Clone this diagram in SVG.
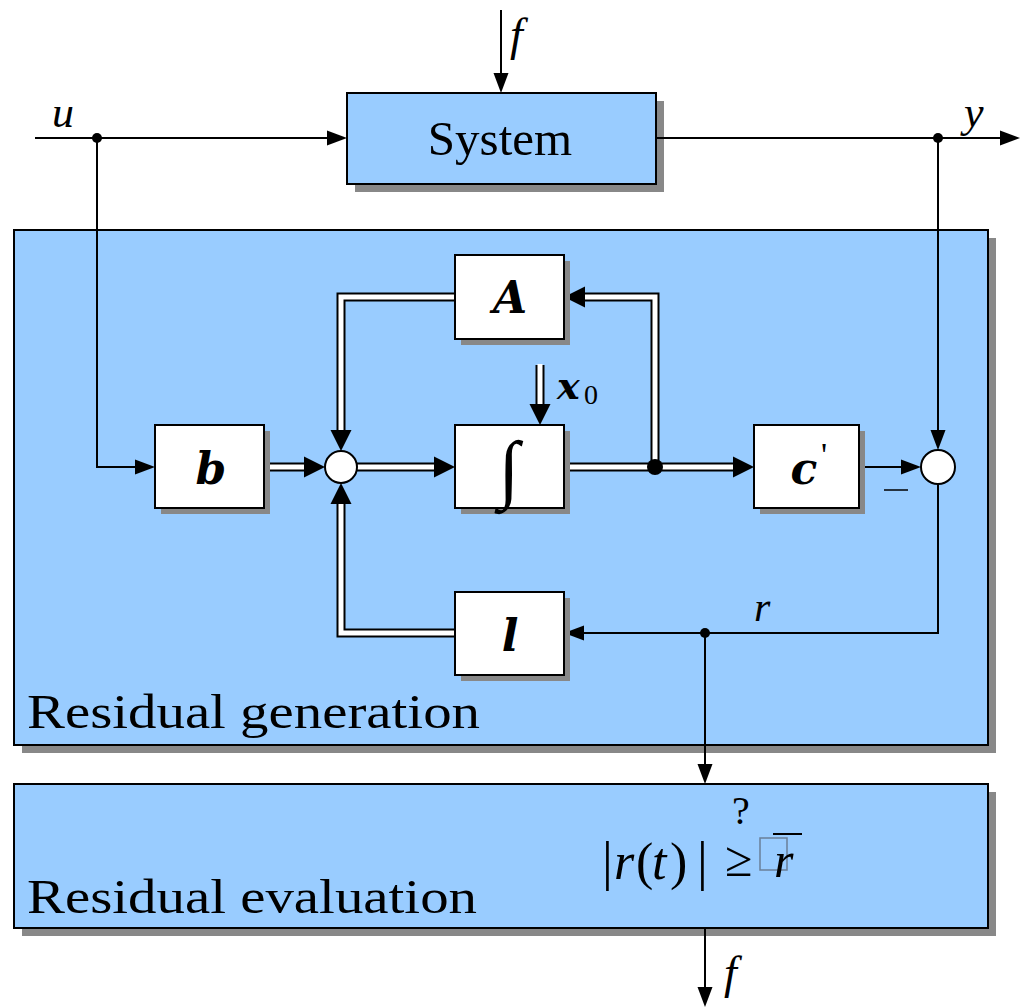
<svg xmlns="http://www.w3.org/2000/svg" width="1020" height="1007" viewBox="0 0 1020 1007">
<style>
  .panel{fill:#99ccff;stroke:#000;stroke-width:2}
  .shadow{fill:#888888}
  .blk{fill:#ffffff;stroke:#000;stroke-width:2}
  .w1{fill:none;stroke:#000;stroke-width:2}
  .dout{fill:none;stroke:#000;stroke-width:9;stroke-linejoin:miter}
  .din{fill:none;stroke:#fff;stroke-width:5;stroke-linejoin:miter}
  .t{font-family:"Liberation Serif","DejaVu Serif",serif;fill:#000}
  .m{font-family:"Liberation Serif","DejaVu Serif",serif;font-style:italic;fill:#000}
  .mb{font-family:"DejaVu Serif","Liberation Serif",serif;font-style:italic;font-weight:bold;fill:#000}
</style>
<defs>
  <marker id="ah" markerUnits="userSpaceOnUse" markerWidth="20" markerHeight="16" refX="0" refY="8" orient="auto" viewBox="0 0 20 16">
    <path d="M0,0.5 L20,8 L0,15.5 z" fill="#000"/>
  </marker>
  <marker id="ahd" markerUnits="userSpaceOnUse" markerWidth="21" markerHeight="22" refX="0" refY="11" orient="auto" viewBox="0 0 21 22">
    <path d="M0,0.5 L21,11 L0,21.5 z" fill="#000"/>
  </marker>
</defs>

<g id="panel-generation">
  <rect class="shadow" x="22" y="238" width="974" height="515"/>
  <rect class="panel" x="14" y="230" width="974" height="515"/>
  <text class="t" x="27" y="728" font-size="48" textLength="453" lengthAdjust="spacingAndGlyphs">Residual generation</text>
</g>
<g id="panel-evaluation">
  <rect class="shadow" x="22" y="792" width="974" height="144"/>
  <rect class="panel" x="14" y="784" width="974" height="144"/>
  <text class="t" x="27" y="913" font-size="48" textLength="450" lengthAdjust="spacingAndGlyphs">Residual evaluation</text>
  <text class="t" x="602" y="879" font-size="54">|</text>
  <text class="m" x="614" y="879" font-size="52">r</text>
  <text class="t" x="636" y="879" font-size="52">(</text>
  <text class="m" x="652" y="879" font-size="52">t</text>
  <text class="t" x="670" y="879" font-size="52">)</text>
  <text class="t" x="697" y="879" font-size="54">|</text>
  <text class="t" x="725" y="876" font-size="50">≥</text>
  <text class="t" x="732" y="824" font-size="40">?</text>
  <rect x="760" y="838" width="27" height="32" fill="none" stroke="#6a7f99" stroke-width="1.5"/>
  <text class="m" x="774" y="877" font-size="50">r</text>
  <line x1="773" y1="834" x2="802" y2="834" stroke="#000" stroke-width="2"/>
</g>

<g id="system">
  <rect class="shadow" x="355" y="101" width="309" height="91"/>
  <rect class="panel" x="347" y="93" width="309" height="91"/>
  <text class="t" x="500" y="155" font-size="49" text-anchor="middle">System</text>
</g>

<g id="connectors">
  <path class="w1" d="M35,138 H327" marker-end="url(#ah)"/>
  <path class="w1" d="M97,138 V467 H135" marker-end="url(#ah)"/>
  <path class="w1" d="M501,10 V73" marker-end="url(#ah)"/>
  <path class="w1" d="M656,138 H1000" marker-end="url(#ah)"/>
  <path class="w1" d="M938,138 V430" marker-end="url(#ah)"/>
  <path class="w1" d="M859,467 H901" marker-end="url(#ah)"/>
  <path class="w1" d="M938,484 V633 H584" marker-end="url(#ah)"/>
  <path class="w1" d="M705,633 V764" marker-end="url(#ah)"/>
  <path class="w1" d="M705,928 V987" marker-end="url(#ah)"/>

  <path class="dout" d="M264,467 H304" marker-end="url(#ahd)"/>
  <path class="din" d="M263,467 H304"/>
  <path class="dout" d="M357,467 H434" marker-end="url(#ahd)"/>
  <path class="din" d="M356,467 H434"/>
  <path class="dout" d="M564,467 H733" marker-end="url(#ahd)"/>
  <path class="din" d="M563,467 H733"/>
  <path class="dout" d="M655,467 V297 H585" marker-end="url(#ahd)"/>
  <path class="din" d="M655,468 V297 H585"/>
  <path class="dout" d="M455,297 H341 V430" marker-end="url(#ahd)"/>
  <path class="din" d="M456,297 H341 V430"/>
  <path class="dout" d="M455,633 H341 V504" marker-end="url(#ahd)"/>
  <path class="din" d="M456,633 H341 V504"/>
  <path class="dout" d="M540,365 V404" marker-end="url(#ahd)"/>
  <path class="din" d="M540,364 V404"/>

  <circle cx="97" cy="138" r="5" fill="#000"/>
  <circle cx="938" cy="138" r="5" fill="#000"/>
  <circle cx="655" cy="467" r="8" fill="#000"/>
  <circle cx="705" cy="633" r="5" fill="#000"/>
</g>

<g id="block-b">
  <rect class="shadow" x="161" y="431" width="109" height="83"/>
  <rect class="blk" x="155" y="425" width="109" height="83"/>
  <text class="mb" x="211" y="484" font-size="44" text-anchor="middle">b</text>
</g>
<g id="sum1">
  <circle cx="341" cy="467" r="16" fill="#fff" stroke="#000" stroke-width="2"/>
</g>
<g id="block-int">
  <rect class="shadow" x="461" y="431" width="109" height="83"/>
  <rect class="blk" x="455" y="425" width="109" height="83"/>
  <text class="t" x="509" y="494" font-size="76" text-anchor="middle">∫</text>
</g>
<g id="block-A">
  <rect class="shadow" x="461" y="261" width="109" height="84"/>
  <rect class="blk" x="455" y="255" width="109" height="84"/>
  <text class="mb" x="510" y="313" font-size="44" text-anchor="middle">A</text>
</g>
<g id="block-l">
  <rect class="shadow" x="461" y="598" width="109" height="83"/>
  <rect class="blk" x="455" y="592" width="109" height="83"/>
  <text class="mb" x="510" y="651" font-size="44" text-anchor="middle">l</text>
</g>
<g id="block-c">
  <rect class="shadow" x="760" y="431" width="105" height="83"/>
  <rect class="blk" x="754" y="425" width="105" height="83"/>
  <text class="mb" x="804" y="484" font-size="44" text-anchor="middle">c</text>
  <text class="t" x="821" y="466" font-size="34">'</text>
</g>
<g id="sum2">
  <circle cx="938" cy="467" r="17" fill="#fff" stroke="#000" stroke-width="2"/>
  <line x1="884" y1="490" x2="908" y2="490" stroke="#000" stroke-width="1.5"/>
</g>

<g id="labels">
  <text class="m" x="510" y="50" font-size="46">f</text>
  <text class="m" x="52" y="127" font-size="44">u</text>
  <text class="m" x="964" y="127" font-size="44">y</text>
  <text class="mb" x="557" y="399" font-size="38">x</text>
  <text class="t" x="584" y="404" font-size="28">0</text>
  <text class="m" x="754" y="621" font-size="42">r</text>
  <text class="m" x="724" y="988" font-size="46">f</text>
</g>
</svg>
